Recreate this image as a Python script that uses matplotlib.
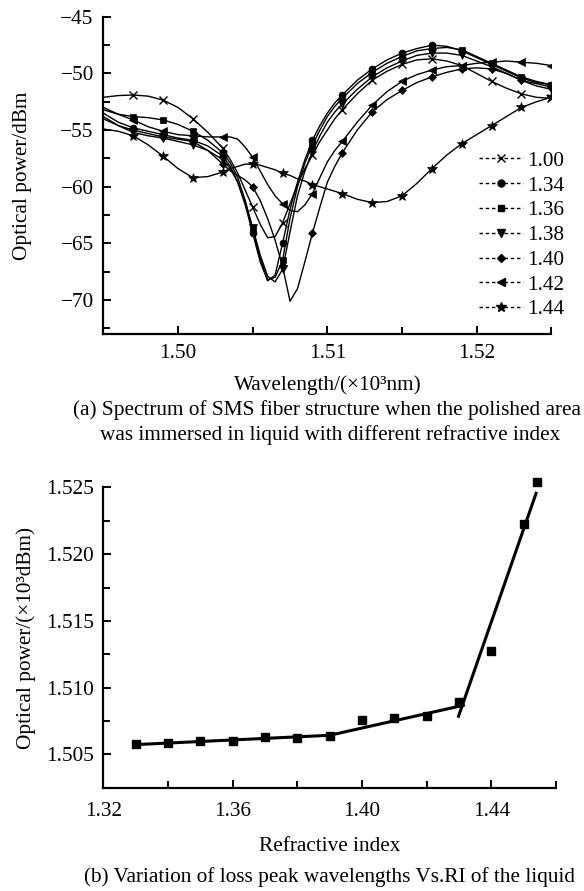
import numpy as np
import matplotlib
matplotlib.use("Agg")
from matplotlib import pyplot as plt
from matplotlib.lines import Line2D
from matplotlib.ticker import MultipleLocator, FormatStrFormatter

plt.rcParams["font.family"] = ["Liberation Serif", "DejaVu Serif"]
plt.rcParams["font.size"] = 15.3

# ---- panel (a): spectra, wavelength in 10^3 nm, power in dBm ----
wavelength = [1.495, 1.496, 1.497, 1.498, 1.499, 1.500, 1.501, 1.502, 1.503,
              1.5035, 1.504, 1.5045, 1.505, 1.5055, 1.506, 1.5065, 1.507, 1.5075,
              1.508, 1.5085, 1.509, 1.5095, 1.510, 1.5105,
              1.511, 1.512, 1.513, 1.514, 1.515, 1.516, 1.517, 1.518, 1.519,
              1.520, 1.521, 1.522, 1.523, 1.524, 1.525]

p_100 = [-52.1, -51.95, -51.9, -52.0, -52.35, -53.0, -54.0, -55.2, -56.6,
         -57.6, -58.8, -60.3, -61.8, -63.3, -64.5, -64.4, -63.2, -61.5,
         -59.8, -58.4, -57.2, -56.0, -55.0, -54.0,
         -53.2, -51.8, -50.6, -49.8, -49.2, -48.8, -48.7, -48.9, -49.3,
         -50.0, -50.7, -51.3, -51.8, -52.1, -52.2]
p_134 = [-53.5, -54.3, -54.8, -55.1, -55.4, -55.7, -55.9, -56.4, -57.3,
         -58.2, -59.6, -61.6, -64.1, -66.6, -68.3, -67.8, -65.0, -62.0,
         -59.6, -57.6, -55.9, -54.6, -53.5, -52.6,
         -51.9, -50.6, -49.6, -48.8, -48.2, -47.8, -47.5, -47.6, -48.0,
         -48.6, -49.2, -49.8, -50.4, -50.8, -51.0]
p_136 = [-53.2, -53.6, -53.8, -53.9, -54.1, -54.5, -55.1, -55.9, -57.0,
         -57.9, -59.2, -61.2, -63.7, -66.3, -68.2, -68.0, -66.5, -62.8,
         -60.0, -57.9, -56.3, -55.0, -53.8, -52.9,
         -52.2, -50.9, -49.9, -49.1, -48.5, -48.0, -47.8, -47.7, -47.9,
         -48.5, -49.1, -49.7, -50.3, -50.7, -51.0]
p_138 = [-53.8, -54.6, -55.2, -55.5, -55.7, -56.0, -56.3, -56.8, -57.6,
         -58.4, -59.6, -61.4, -63.6, -66.0, -67.9, -68.4, -67.3, -64.0,
         -60.8, -58.6, -56.9, -55.5, -54.3, -53.4,
         -52.7, -51.4, -50.3, -49.5, -48.9, -48.4, -48.2, -48.2, -48.4,
         -48.9, -49.4, -50.0, -50.6, -51.1, -51.4]
p_140 = [-54.0, -54.6, -55.0, -55.3, -55.6, -55.8, -56.0, -56.8, -58.0,
         -58.6, -59.0, -59.4, -60.0, -61.2, -62.8, -64.7, -67.0, -70.1,
         -69.0, -66.6, -64.1, -61.8, -59.6, -58.2,
         -57.0, -55.0, -53.4, -52.3, -51.5, -50.8, -50.3, -49.9, -49.6,
         -49.5, -49.6, -50.0, -50.6, -50.9, -51.2]
p_142 = [-53.0, -53.6, -54.1, -54.7, -55.1, -55.4, -55.5, -55.6, -55.6,
         -55.6, -55.8, -56.5, -57.4, -58.6, -59.8, -60.8, -61.5, -62.1,
         -62.2, -61.6, -60.6, -59.2, -57.8, -56.8,
         -56.0, -54.3, -52.8, -51.6, -50.7, -50.1, -49.7, -49.4, -49.3,
         -49.1, -49.0, -48.9, -49.0, -49.1, -49.3]
p_144 = [-54.9, -55.1, -55.5, -56.3, -57.3, -58.4, -59.2, -59.1, -58.7,
         -58.4, -58.2, -58.0, -58.0, -58.1, -58.3, -58.5, -58.8, -59.0,
         -59.3, -59.5, -59.8, -60.0, -60.2, -60.4,
         -60.6, -61.1, -61.4, -61.3, -60.8, -59.7, -58.4, -57.2, -56.2,
         -55.4, -54.6, -53.8, -53.0, -52.5, -52.1]

series_labels = ["1.00", "1.34", "1.36", "1.38", "1.40", "1.42", "1.44"]
series_values = [p_100, p_134, p_136, p_138, p_140, p_142, p_144]
series_markers = ["x", "o", "s", "v", "D", "<", "*"]
marker_sizes = [6, 5, 5, 5.5, 4.5, 5.5, 7]

# ---- panel (b): loss peak wavelength vs refractive index ----
ri = [1.33, 1.34, 1.35, 1.36, 1.37, 1.38, 1.39, 1.40, 1.41, 1.42,
      1.43, 1.44, 1.45, 1.454]
peak_wl = [1.50575, 1.50583, 1.5060, 1.5060, 1.50632, 1.50625, 1.50638,
           1.50756, 1.50771, 1.50788, 1.50896, 1.51272, 1.52224, 1.52543]
fit_ri = [[1.329, 1.39], [1.39, 1.4318], [1.4297, 1.454]]
fit_wl = [[1.50572, 1.50643], [1.50643, 1.50870], [1.50775, 1.52467]]

fig = plt.figure(figsize=(5.84, 8.91), dpi=100)
ax1 = fig.add_axes([0.177, 0.6251, 0.767, 0.356])
ax2 = fig.add_axes([0.177, 0.1159, 0.775, 0.337])

wl = np.array(wavelength)
mark_idx = [i for i, w in enumerate(wl) if round(w * 1e4) % 20 == 10 and w > 1.496]

for vals, mk, ms in zip(series_values, series_markers, marker_sizes):
    ax1.plot(wl, vals, color="black", lw=1.0, marker=mk, ms=ms,
             markevery=mark_idx, mfc="black", mec="black",
             mew=1.0 if mk == "x" else 0.5)

handles = [Line2D([], [], color="black", lw=1.0, ls=(0, (2.5, 2)),
                  marker=mk, ms=ms, mfc="black", mec="black")
           for mk, ms in zip(series_markers, marker_sizes)]
ax1.legend(handles, series_labels, loc="upper right",
           bbox_to_anchor=(1.03, 0.577), frameon=False, fontsize=15.3,
           handlelength=2.1, handletextpad=0.2, labelspacing=0.23,
           borderpad=0, borderaxespad=0, markerfirst=True)

ax1.set_xlim(1.495, 1.525)
ax1.set_ylim(-73, -45)
ax1.xaxis.set_major_locator(MultipleLocator(0.01))
ax1.xaxis.set_minor_locator(MultipleLocator(0.005))
ax1.xaxis.set_major_formatter(FormatStrFormatter("%.2f"))
ax1.yaxis.set_major_locator(MultipleLocator(5))
ax1.yaxis.set_minor_locator(MultipleLocator(2.5))
ax1.set_xlabel("Wavelength/(×10³nm)", labelpad=9)
ax1.set_ylabel("Optical power/dBm", labelpad=20)

ax2.plot(ri, peak_wl, ls="none", marker="s", ms=5.5, color="black",
         clip_on=False)
for fx, fy in zip(fit_ri, fit_wl):
    ax2.plot(fx, fy, color="black", lw=2.2, solid_capstyle="butt")
ax2.set_xlim(1.32, 1.46)
ax2.set_ylim(1.5025, 1.525)
ax2.xaxis.set_major_locator(MultipleLocator(0.04))
ax2.xaxis.set_minor_locator(MultipleLocator(0.02))
ax2.xaxis.set_major_formatter(FormatStrFormatter("%.2f"))
ax2.yaxis.set_major_locator(MultipleLocator(0.005))
ax2.yaxis.set_minor_locator(MultipleLocator(0.0025))
ax2.yaxis.set_major_formatter(FormatStrFormatter("%.3f"))
ax2.set_xlabel("Refractive index", labelpad=12)
ax2.set_ylabel("Optical power/(×10³dBm)", labelpad=7)

for ax in (ax1, ax2):
    for side in ("top", "right"):
        ax.spines[side].set_visible(False)
    for side in ("left", "bottom"):
        ax.spines[side].set_linewidth(1.6)
    ax.tick_params(which="both", direction="in", width=1.4, labelsize=15.3)
    ax.tick_params(which="major", length=6, pad=7)
    ax.tick_params(which="minor", length=5)
ax2.tick_params(axis="x", which="major", pad=10)

fig.text(0.560, 1 - 410 / 891,
         "(a) Spectrum of SMS fiber structure when the polished area",
         ha="center", va="center", fontsize=15.3)
fig.text(0.565, 1 - 435 / 891,
         "was immersed in liquid with different refractive index",
         ha="center", va="center", fontsize=15.3)
fig.text(0.565, 1 - 877 / 891,
         "(b) Variation of loss peak wavelengths Vs.RI of the liquid",
         ha="center", va="center", fontsize=15.3)

fig.savefig("out.png", dpi=100)
